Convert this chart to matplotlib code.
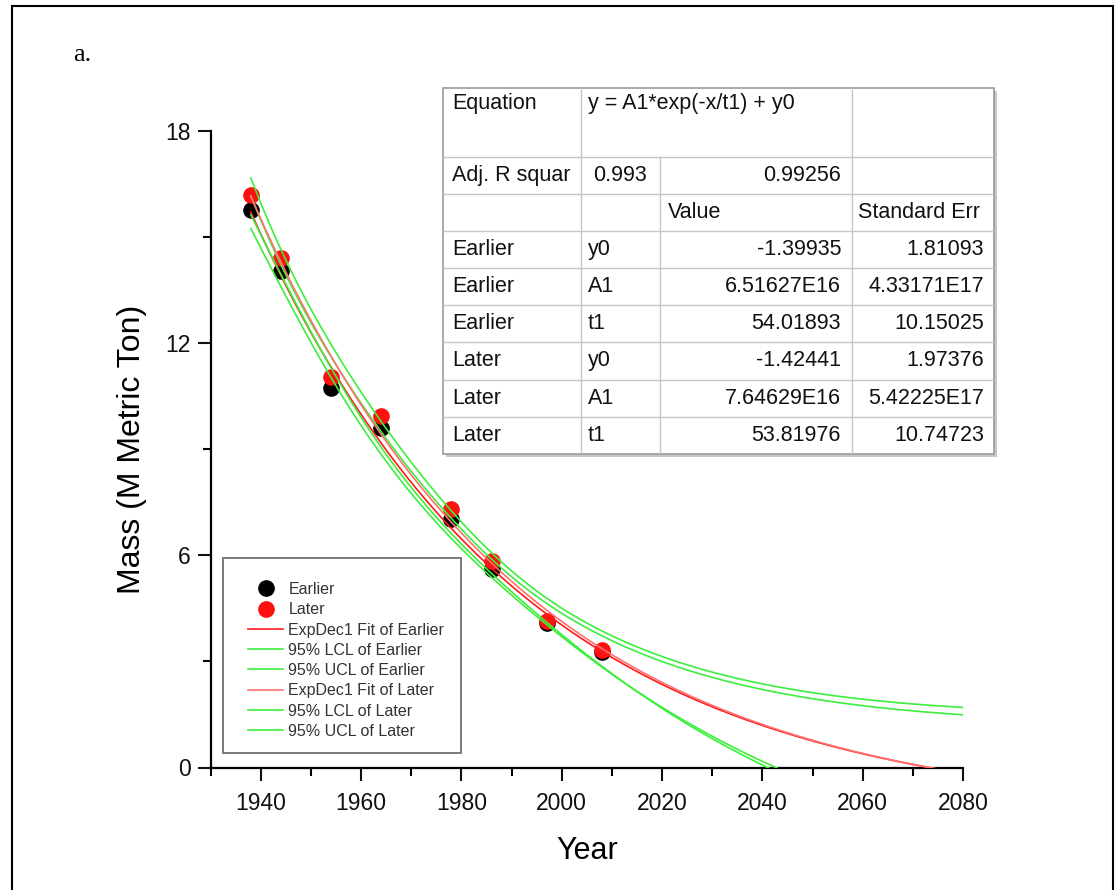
import numpy as np
import matplotlib
matplotlib.use("Agg")
import matplotlib.pyplot as plt
from matplotlib.lines import Line2D
from matplotlib.patches import Rectangle

plt.rcParams["font.family"] = ["Liberation Sans", "DejaVu Sans"]

# measured mass per survey year
years = np.array([1938, 1944, 1954, 1964, 1978, 1986, 1997, 2008], dtype=float)
earlier = np.array([15.78, 14.03, 10.73, 9.60, 7.02, 5.61, 4.08, 3.28])
later = np.array([16.20, 14.41, 11.04, 9.93, 7.32, 5.85, 4.13, 3.33])

# ExpDec1 parameters: y = A1*exp(-x/t1) + y0
fit_earlier = dict(y0=-1.39935, A1=6.51627e16, t1=54.01893)
fit_later = dict(y0=-1.42441, A1=7.64629e16, t1=53.81976)
err_earlier = dict(y0=1.81093, A1=4.33171e17, t1=10.15025)
err_later = dict(y0=1.97376, A1=5.42225e17, t1=10.74723)
adj_r2 = ["0.993", "0.99256"]

# multiplier on the standard error of the fitted mean for the band lines
BAND_T = 1.5


def expdec1(x, p):
    # log form keeps the huge A1 * tiny exp product stable
    return np.exp(np.log(p["A1"]) - x / p["t1"]) + p["y0"]


def conf_band(x, xs, ys, p):
    # linearised band of the mean, centred parameterisation
    xc = xs.mean()
    b = np.exp(np.log(p["A1"]) - xc / p["t1"])

    def jac(xx):
        e = np.exp(-(xx - xc) / p["t1"])
        return np.column_stack([np.ones_like(xx), e, b * e * (xx - xc) / p["t1"] ** 2])

    res = ys - expdec1(xs, p)
    s2 = res @ res / (len(xs) - 3)
    J = jac(xs)
    cov = s2 * np.linalg.inv(J.T @ J)
    Jx = jac(x)
    se = np.sqrt(np.einsum("ij,jk,ik->i", Jx, cov, Jx))
    f = expdec1(x, p)
    return f - BAND_T * se, f + BAND_T * se


W, H = 1120, 890
fig = plt.figure(figsize=(W / 100, H / 100), dpi=100)
fig.patch.set_facecolor("white")

# page frame (runs off the bottom edge)
fig.patches.append(Rectangle((12 / W, -0.02), 1101 / W, 1.02 - 6 / H, transform=fig.transFigure,
                             fill=False, edgecolor="black", linewidth=1.5))
fig.text(73 / W, 1 - 55 / H, "a.", family="Liberation Serif", fontsize=19, va="center")

ax = fig.add_axes([210.7 / W, 1 - 767.5 / H, (963 - 210.7) / W, (767.5 - 131) / H])

GREEN = "#3cef3c"
RED_E = "#ff1a1a"
RED_L = "#ff7070"
xx = np.linspace(years[0], 2080, 600)

ax.scatter(years, earlier, s=120, color="black", zorder=2, label="Earlier")
ax.scatter(years, later, s=120, color="#ff1010", zorder=2, label="Later")

lo_e, hi_e = conf_band(xx, years, earlier, fit_earlier)
lo_l, hi_l = conf_band(xx, years, later, fit_later)
ax.plot(xx, expdec1(xx, fit_earlier), color=RED_E, lw=1.2, zorder=3, label="ExpDec1 Fit of Earlier")
ax.plot(xx, lo_e, color=GREEN, lw=1.2, zorder=3, label="95% LCL of Earlier")
ax.plot(xx, hi_e, color=GREEN, lw=1.2, zorder=3, label="95% UCL of Earlier")
ax.plot(xx, expdec1(xx, fit_later), color=RED_L, lw=1.2, zorder=3, label="ExpDec1 Fit of Later")
ax.plot(xx, lo_l, color=GREEN, lw=1.2, zorder=3, label="95% LCL of Later")
ax.plot(xx, hi_l, color=GREEN, lw=1.2, zorder=3, label="95% UCL of Later")

ax.set_xlim(1930, 2080)
ax.set_ylim(0, 18)
ax.set_xticks(np.arange(1940, 2081, 20))
ax.set_xticks(np.arange(1930, 2081, 10), minor=True)
ax.set_yticks([0, 6, 12, 18])
ax.set_yticks([3, 9, 15], minor=True)
for side in ("top", "right"):
    ax.spines[side].set_visible(False)
for side in ("left", "bottom"):
    ax.spines[side].set_linewidth(1.6)
ax.tick_params(which="major", direction="out", length=9.5, width=1.5, labelsize=16.5,
               colors="#111111")
ax.tick_params(axis="x", which="major", pad=8)
ax.tick_params(axis="y", which="major", pad=5)
ax.tick_params(which="minor", direction="out", length=5.5, width=1.5)
ax.set_xlabel("Year", fontsize=22, labelpad=15)
ax.set_ylabel("Mass (M Metric Ton)", fontsize=23, labelpad=13)

# legend box drawn separately so the empty top margin can be kept
fig.patches.append(Rectangle((222.7 / W, 1 - 753.3 / H), (461 - 222.7) / W, (753.3 - 558.3) / H,
                             transform=fig.transFigure, fill=False, edgecolor="#7a7a7a",
                             linewidth=1.4, zorder=5))
handles = [
    Line2D([], [], ls="", marker="o", ms=11, color="black"),
    Line2D([], [], ls="", marker="o", ms=11, color="#ff1010"),
    Line2D([], [], color=RED_E, lw=1.2),
    Line2D([], [], color=GREEN, lw=1.2),
    Line2D([], [], color=GREEN, lw=1.2),
    Line2D([], [], color=RED_L, lw=1.2),
    Line2D([], [], color=GREEN, lw=1.2),
    Line2D([], [], color=GREEN, lw=1.2),
]
labels = ax.get_legend_handles_labels()[1]
leg = fig.legend(handles, labels, loc="upper left", bbox_to_anchor=(248 / W, 1 - 582 / H),
                 frameon=False, fontsize=11.5, handlelength=2.2, handletextpad=0.33,
                 labelspacing=0.33, borderpad=0, borderaxespad=0)
for t in leg.get_texts():
    t.set_color("#333333")

# parameter table
tab = fig.add_axes([443 / W, 1 - 454 / H, (994 - 443) / W, (454 - 88) / H])
tab.set_xlim(443, 994)
tab.set_ylim(454, 88)
tab.axis("off")
tab.add_patch(Rectangle((446, 91), 551, 366, facecolor="#c8c8c8", edgecolor="none", zorder=0,
                        clip_on=False))
tab.add_patch(Rectangle((443, 88), 551, 366, facecolor="white", edgecolor="#9a9a9a", lw=1.2,
                        zorder=1, clip_on=False))

row_y = [88, 157, 194, 231, 268, 305, 342, 380, 417, 454]
col_x = [443, 580.5, 660, 851.5, 994]
grid = dict(color="#c6c6c6", lw=1.0, zorder=2)
for y in row_y[1:-1]:
    tab.plot([col_x[0], col_x[-1]], [y, y], **grid)
tab.plot([col_x[1], col_x[1]], [row_y[0], row_y[-1]], **grid)
tab.plot([col_x[3], col_x[3]], [row_y[0], row_y[-1]], **grid)
tab.plot([col_x[2], col_x[2]], [row_y[1], row_y[-1]], **grid)

tk = dict(fontsize=15.5, color="#111111", va="center", zorder=3)
tab.text(452, 104, "Equation", ha="left", **tk)
tab.text(588, 104, "y = A1*exp(-x/t1) + y0", ha="left", **tk)
ym = [(a + b) / 2 for a, b in zip(row_y[1:-1], row_y[2:])]
tab.text(452, ym[0], "Adj. R squar", ha="left", **tk)
tab.text(620, ym[0], adj_r2[0], ha="center", **tk)
tab.text(841, ym[0], adj_r2[1], ha="right", **tk)
tab.text(668, ym[1], "Value", ha="left", **tk)
tab.text(858, ym[1], "Standard Err", ha="left", **tk)

rows = []
for name, p, e in (("Earlier", fit_earlier, err_earlier), ("Later", fit_later, err_later)):
    for key in ("y0", "A1", "t1"):
        if key == "A1":
            val, err = f"{p[key]:.5E}".replace("E+", "E"), f"{e[key]:.5E}".replace("E+", "E")
        else:
            val, err = f"{p[key]:.5f}", f"{e[key]:.5f}"
        rows.append((name, key, val, err))
for y, (name, key, val, err) in zip(ym[2:], rows):
    tab.text(452, y, name, ha="left", **tk)
    tab.text(588, y, key, ha="left", **tk)
    tab.text(841, y, val, ha="right", **tk)
    tab.text(984, y, err, ha="right", **tk)

fig.savefig("out.png", dpi=100)
